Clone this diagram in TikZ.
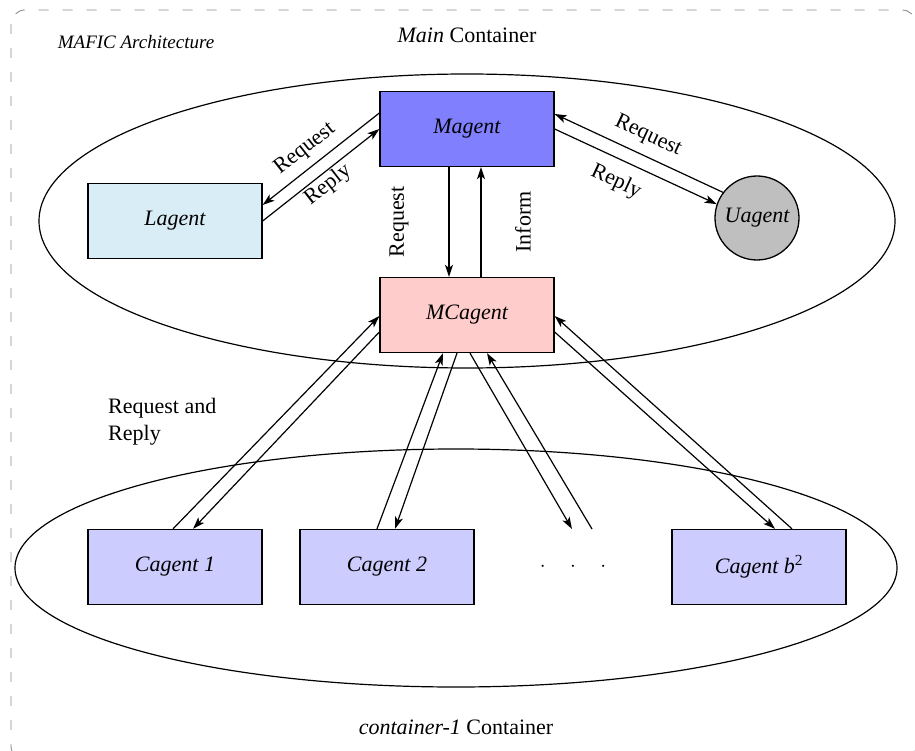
\documentclass[tikz,border=0pt]{standalone}
\usepackage{fontspec}
\setmainfont{Liberation Serif}
\usetikzlibrary{arrows.meta,shapes.geometric,calc}
\definecolor{magentc}{RGB}{128,128,255}
\definecolor{lagentc}{RGB}{217,237,247}
\definecolor{mcagentc}{RGB}{255,204,204}
\definecolor{cagentc}{RGB}{204,204,255}
\definecolor{uagentc}{RGB}{191,191,191}
\definecolor{framec}{RGB}{140,140,140}
\begin{document}
\begin{tikzpicture}[x=1pt,y=-1pt,
  font=\fontsize{22}{27}\selectfont,
  box/.style={draw, line width=1.3pt, minimum width=174pt, minimum height=75pt, inner sep=0pt, font=\fontsize{22}{27}\selectfont\itshape},
  arr/.style={-{Stealth[length=12pt,width=8pt,inset=3pt]}, line width=1.2pt},
  cont/.style={draw, ellipse, line width=1.2pt, inner sep=0pt},
  lbl/.style={inner sep=0pt}]
\useasboundingbox (0,0) rectangle (915,751);
\draw[framec, dash pattern=on 10pt off 14pt, line width=0.9pt, rounded corners=14pt] (11,10) rectangle (916,760);
% containers
\node[cont, minimum width=856pt, minimum height=294pt] (mainc) at (467,221) {};
\node[cont, minimum width=882pt, minimum height=238pt] (subc) at (456,568) {};
% agents
\node[box, fill=magentc] (M) at (467,129) {Magent};
\node[box, fill=lagentc] (L) at (175,221) {Lagent};
\node[draw, circle, line width=1.3pt, fill=uagentc, minimum size=84pt, inner sep=0pt, font=\fontsize{22}{27}\selectfont\itshape] (U) at (757,218) {Uagent};
\node[box, fill=mcagentc] (MC) at (467,315) {MCagent};
\node[box, fill=cagentc] (C1) at (175,567) {Cagent 1};
\node[box, fill=cagentc] (C2) at (387,567) {Cagent 2};
\node[box, fill=cagentc] (C3) at (759,567) {Cagent b\textsuperscript{\upshape 2}};
\node (dots) at (573,567) {$\cdot\hspace{20pt}\cdot\hspace{20pt}\cdot$};
\coordinate (d1) at (572,529);
\coordinate (d2) at (592,529);
% texts
\node[anchor=base, font=\fontsize{19}{23}\selectfont\itshape] (title) at (136,49) {MAFIC Architecture};
\node[anchor=base] (mainlbl) at (467,43) {\textit{Main} Container};
\node[anchor=base] (sublbl) at (456,734) {\textit{container-1} Container};
\node[anchor=north west, align=left, lbl] (rr) at (108,398) {Request and\\Reply};
% Magent - Lagent
\draw[arr] ([yshift=16pt]M.west) -- ([yshift=16pt]L.east);
\draw[arr] (L.east) -- (M.west);
\node[rotate=38, lbl] (lreq) at (305,149) {Request};
\node[rotate=38, lbl] (lrep) at (328,185) {Reply};
% Magent - Uagent
\draw[arr] (U.143) -- ([yshift=15pt]M.east);
\draw[arr] (M.east) -- (U.161);
\node[rotate=-25, lbl] (ureq) at (648,136) {Request};
\node[rotate=-25, lbl] (urep) at (616,182) {Reply};
% Magent - MCagent
\draw[arr] ([xshift=-18pt]M.south) -- ([xshift=-18pt]MC.north);
\draw[arr] ([xshift=14pt]MC.north) -- ([xshift=14pt]M.south);
\node[rotate=90, lbl] (vreq) at (399,222) {Request};
\node[rotate=90, lbl] (vinf) at (523,222) {Inform};
% MCagent - Cagents
\draw[arr] ([xshift=-2pt]C1.north) -- ([yshift=-1pt]MC.west);
\draw[arr] ([yshift=-17pt]MC.west) -- ([xshift=18pt]C1.north);
\draw[arr] ([xshift=-10pt]C2.north) -- ([xshift=-24pt]MC.south);
\draw[arr] ([xshift=-10pt]MC.south) -- ([xshift=8pt]C2.north);
\draw[arr] ([xshift=3pt]MC.south) -- (d1);
\draw[arr] (d2) -- ([xshift=20pt]MC.south);
\draw[arr] ([xshift=33pt]C3.north) -- ([yshift=-1pt]MC.east);
\draw[arr] ([yshift=-17pt]MC.east) -- ([xshift=16pt]C3.north);
\end{tikzpicture}
\end{document}
